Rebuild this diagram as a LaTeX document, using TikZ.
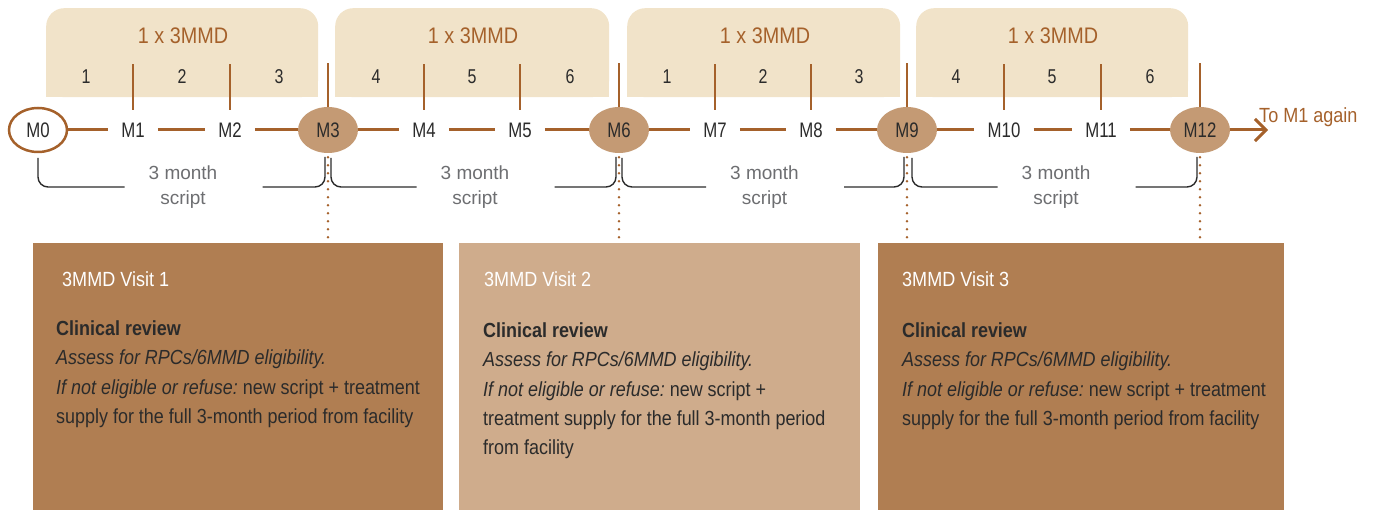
\documentclass[tikz,border=0pt]{standalone}
\usepackage{fontspec}
\setmainfont{Liberation Sans}[FakeStretch=0.88]
\newfontfamily\narrowfont{Liberation Sans}[FakeStretch=0.8]
\newfontfamily\plainfont{Liberation Sans}
\usetikzlibrary{shapes.geometric,arrows.meta}
\definecolor{beige}{HTML}{F1E3C9}
\definecolor{brn}{HTML}{A5612B}
\definecolor{ellfill}{HTML}{C49A74}
\definecolor{darkbox}{HTML}{B07E52}
\definecolor{lightbox}{HTML}{CFAC8C}
\definecolor{graytxt}{HTML}{6D6E71}
\definecolor{darktxt}{HTML}{2B2B2B}
\frenchspacing
\begin{document}
\begin{tikzpicture}[x=1pt,y=-1pt,
  every node/.style={inner sep=0pt},
  tb/.style={fill=beige, rounded corners=18pt, minimum height=89pt, anchor=north west},
  ttl/.style={font=\fontsize{22.5}{26}\selectfont, text=brn, anchor=base},
  num/.style={font=\narrowfont\fontsize{20}{22}\selectfont, text=darktxt, anchor=base},
  mlab/.style={font=\narrowfont\fontsize{21}{24}\selectfont, text=darktxt, text height=15pt, text depth=0pt, inner xsep=13pt},
  mell/.style={ellipse, fill=ellfill, minimum width=60pt, minimum height=46pt, font=\narrowfont\fontsize{21}{24}\selectfont, text=darktxt, text height=15pt, text depth=0pt},
  m0ell/.style={ellipse, draw=brn, line width=2.5pt, fill=white, minimum width=58pt, minimum height=44pt, font=\narrowfont\fontsize{21}{24}\selectfont, text=darktxt, text height=15pt, text depth=0pt},
  tl/.style={draw=brn, line width=3pt},
  tickl/.style={draw=brn, line width=1.6pt},
  dotl/.style={draw=brn, line width=2.8pt, line cap=round, dash pattern=on 0pt off 8pt},
  brk/.style={draw=darktxt, line width=1.4pt, rounded corners=10pt},
  scr/.style={font=\plainfont\fontsize{19}{25}\selectfont, text=graytxt, align=center, anchor=north},
  vbox/.style={minimum height=267pt, anchor=north west},
  vtitle/.style={font=\fontsize{20.5}{24}\selectfont, text=white, anchor=base west},
  vbody/.style={font=\fontsize{20.4}{29.3}\selectfont\frenchspacing, text=darktxt, align=left, anchor=north west}
]
\useasboundingbox (0,0) rectangle (1378,510);

% top boxes
\node[tb, minimum width=272pt] (tb1) at (46,8) {};
\node[tb, minimum width=274pt] (tb2) at (335,8) {};
\node[tb, minimum width=273pt] (tb3) at (627,8) {};
\node[tb, minimum width=272pt] (tb4) at (916,8) {};
\fill[beige] (46,60) rectangle (318,97);
\fill[beige] (335,60) rectangle (609,97);
\fill[beige] (627,60) rectangle (900,97);
\fill[beige] (916,60) rectangle (1188,97);

\node[ttl] (t1) at (183,44) {1 x 3MMD};
\node[ttl] (t2) at (473,44) {1 x 3MMD};
\node[ttl] (t3) at (765,44) {1 x 3MMD};
\node[ttl] (t4) at (1053,44) {1 x 3MMD};

\node[num] (n1) at (86,84) {1};
\node[num] (n2) at (182,84) {2};
\node[num] (n3) at (279,84) {3};
\node[num] (n4) at (376,84) {4};
\node[num] (n5) at (472,84) {5};
\node[num] (n6) at (570,84) {6};
\node[num] (n7) at (667,84) {1};
\node[num] (n8) at (763,84) {2};
\node[num] (n9) at (859,84) {3};
\node[num] (n10) at (956,84) {4};
\node[num] (n11) at (1052,84) {5};
\node[num] (n12) at (1150,84) {6};

% bottom boxes
\node[vbox, fill=darkbox, minimum width=410pt] (vb1) at (33,243) {};
\node[vbox, fill=lightbox, minimum width=401pt] (vb2) at (459,243) {};
\node[vbox, fill=darkbox, minimum width=406pt] (vb3) at (878,243) {};

% timeline nodes
\node[m0ell] (m0) at (38,130) {M0};
\node[mlab] (m1) at (133,130) {M1};
\node[mlab] (m2) at (230,130) {M2};
\node[mell] (m3) at (328,130) {M3};
\node[mlab] (m4) at (424,130) {M4};
\node[mlab] (m5) at (520,130) {M5};
\node[mell] (m6) at (619,130) {M6};
\node[mlab] (m7) at (715,130) {M7};
\node[mlab] (m8) at (811,130) {M8};
\node[mell] (m9) at (907,130) {M9};
\node[mlab] (m10) at (1004,130) {M10};
\node[mlab] (m11) at (1101,130) {M11};
\node[mell] (m12) at (1200,130) {M12};

\draw[tl] (m0) -- (m1);
\draw[tl] (m1) -- (m2);
\draw[tl] (m2) -- (m3);
\draw[tl] (m3) -- (m4);
\draw[tl] (m4) -- (m5);
\draw[tl] (m5) -- (m6);
\draw[tl] (m6) -- (m7);
\draw[tl] (m7) -- (m8);
\draw[tl] (m8) -- (m9);
\draw[tl] (m9) -- (m10);
\draw[tl] (m10) -- (m11);
\draw[tl] (m11) -- (m12);

\coordinate (arrend) at (1268,130);
\draw[tl, -{Straight Barb[length=11pt,width=22pt]}] (m12) -- (arrend);
\node[font=\fontsize{20.5}{24}\selectfont, text=brn, anchor=base west] (again) at (1259,123) {To M1 again};

% ticks
\foreach \n in {m1,m2,m4,m5,m7,m8,m10,m11} {
  \draw[tickl] ([yshift=20pt]\n.center) -- ++(0,-46);
}
\foreach \n in {m3,m6,m9,m12} {
  \draw[tickl] (\n.north) -- ++(0,-44);
  \draw[dotl] ([yshift=-4pt]\n.south) -- ++(0,82);
}

% brackets
\foreach \L/\R in {38/325, 331/616, 622/904, 912/1197} {
  \pgfmathsetmacro\md{(\L+\R)/2}
  \draw[brk] (\L,158) -- (\L,187) -- (\md-57,187);
  \draw[brk] (\md+81,187) -- (\R,187) -- (\R,157);
  \node[scr] (sc\L) at (\md+1.5,166) {3 month\\script};
}

% visit texts
\node[vtitle] (v1t) at (62,287) {3MMD Visit 1};
\node[vbody] (v1b) at (56,320.5) {\textbf{Clinical review}\\
{\itshape Assess for RPCs/6MMD eligibility.}\\
{\itshape If not eligible or refuse:} new script + treatment\\
supply for the full 3-month period from facility};

\node[vtitle] (v2t) at (484,287) {3MMD Visit 2};
\node[vbody] (v2b) at (483,322.5) {\textbf{Clinical review}\\
{\itshape Assess for RPCs/6MMD eligibility.}\\
{\itshape If not eligible or refuse:} new script +\\
treatment supply for the full 3-month period\\
from facility};

\node[vtitle] (v3t) at (902,287) {3MMD Visit 3};
\node[vbody] (v3b) at (902,322.5) {\textbf{Clinical review}\\
{\itshape Assess for RPCs/6MMD eligibility.}\\
{\itshape If not eligible or refuse:} new script + treatment\\
supply for the full 3-month period from facility};
\end{tikzpicture}
\end{document}
